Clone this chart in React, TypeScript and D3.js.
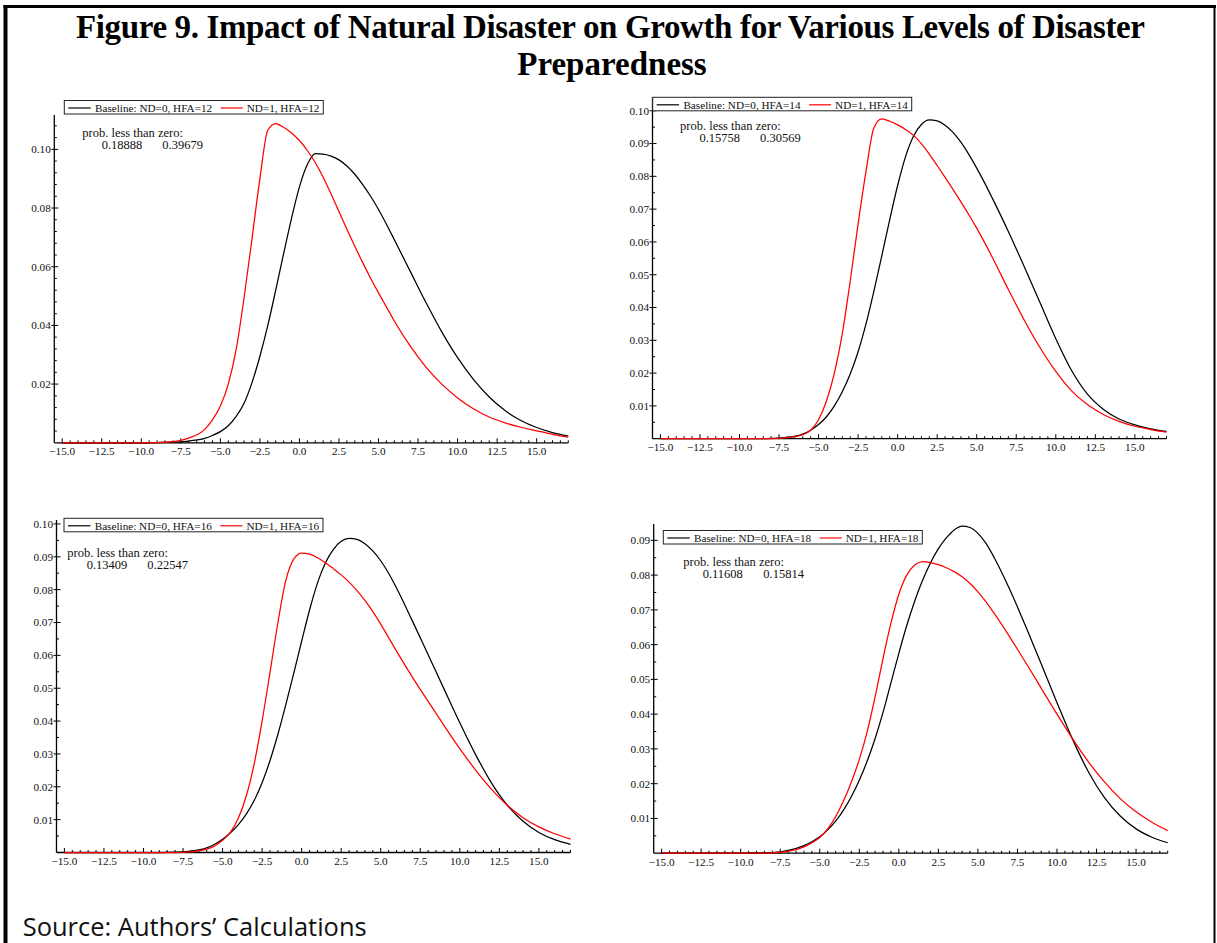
import React from "react";
import * as d3 from "d3";

// ---------- data ----------
const X_GRID = [-15, -12, -10, -9, -8, -7, -6, -5.5, -5, -4.5, -4, -3.5, -3, -2.5, -2, -1.5, -1, -0.5, 0, 0.5, 1, 1.5, 2, 2.5, 3, 3.5, 4, 4.5, 5, 5.5, 6, 7, 8, 9, 10, 11, 12, 13, 14, 15, 16, 17];

const BASE_HFA12 = [0, 0, 0, 0.0001, 0.0002, 0.0006, 0.0015, 0.0025, 0.0038, 0.0058, 0.009, 0.0135, 0.0205, 0.0295, 0.04, 0.052, 0.0645, 0.0765, 0.0872, 0.0948, 0.0985, 0.0984, 0.0977, 0.0964, 0.0943, 0.0915, 0.088, 0.084, 0.0795, 0.0745, 0.0692, 0.0585, 0.0478, 0.0378, 0.029, 0.0216, 0.0156, 0.011, 0.0076, 0.0052, 0.0035, 0.0023];
const ND_HFA12 = [0, 0, 0, 0.0001, 0.0004, 0.0016, 0.0045, 0.0078, 0.0125, 0.02, 0.0318, 0.0495, 0.0695, 0.09, 0.1065, 0.1088, 0.1075, 0.1056, 0.103, 0.0996, 0.0955, 0.0905, 0.0848, 0.0788, 0.0728, 0.067, 0.0614, 0.0561, 0.0511, 0.0463, 0.0415, 0.033, 0.0258, 0.02, 0.0153, 0.0116, 0.0088, 0.0068, 0.0053, 0.0041, 0.0029, 0.0019];

const BASE_HFA14 = [0, 0, 0, 0, 0.0001, 0.0004, 0.0014, 0.0026, 0.0043, 0.0067, 0.01, 0.0143, 0.0197, 0.0265, 0.035, 0.045, 0.0558, 0.0668, 0.0772, 0.086, 0.0922, 0.0958, 0.0972, 0.0969, 0.0956, 0.0934, 0.0904, 0.0867, 0.0825, 0.078, 0.0732, 0.0632, 0.0525, 0.0415, 0.0305, 0.0208, 0.0136, 0.009, 0.006, 0.0042, 0.003, 0.0022];
const ND_HFA14 = [0, 0, 0, 0, 0, 0.0003, 0.0012, 0.0026, 0.0058, 0.0115, 0.02, 0.032, 0.048, 0.0655, 0.0815, 0.0948, 0.0975, 0.0968, 0.0957, 0.0943, 0.0925, 0.09, 0.0868, 0.0833, 0.0797, 0.076, 0.0722, 0.0683, 0.0642, 0.0598, 0.0552, 0.0455, 0.0362, 0.0278, 0.0205, 0.0146, 0.0104, 0.0074, 0.0053, 0.0038, 0.0028, 0.002];

const BASE_HFA16 = [0, 0, 0, 0, 0.0001, 0.0004, 0.0014, 0.0025, 0.004, 0.006, 0.0085, 0.0117, 0.0158, 0.0212, 0.028, 0.036, 0.045, 0.0545, 0.0643, 0.0738, 0.082, 0.0881, 0.0922, 0.0947, 0.0956, 0.0953, 0.094, 0.0918, 0.0888, 0.085, 0.0805, 0.0705, 0.0602, 0.0498, 0.0395, 0.0298, 0.0212, 0.0144, 0.0095, 0.0061, 0.0039, 0.0025];
const ND_HFA16 = [0, 0, 0, 0, 0, 0.0002, 0.001, 0.002, 0.0037, 0.0062, 0.0105, 0.0172, 0.027, 0.04, 0.0548, 0.07, 0.0828, 0.0893, 0.0911, 0.0908, 0.0897, 0.0882, 0.0864, 0.0845, 0.0823, 0.0797, 0.0767, 0.0733, 0.0695, 0.0654, 0.0613, 0.0534, 0.046, 0.0387, 0.0316, 0.0251, 0.0193, 0.0144, 0.0106, 0.0078, 0.0057, 0.0041];

const BASE_HFA18 = [0, 0, 0, 0.0001, 0.0002, 0.0008, 0.0022, 0.0033, 0.0047, 0.0067, 0.0092, 0.0124, 0.0163, 0.021, 0.0265, 0.033, 0.0405, 0.049, 0.0575, 0.0655, 0.0725, 0.0785, 0.0835, 0.0876, 0.0907, 0.093, 0.0941, 0.0937, 0.092, 0.0892, 0.0853, 0.076, 0.0655, 0.0545, 0.0433, 0.0326, 0.0233, 0.016, 0.0107, 0.007, 0.0046, 0.003];
const ND_HFA18 = [0, 0, 0, 0, 0.0001, 0.0005, 0.0018, 0.003, 0.0045, 0.007, 0.0105, 0.015, 0.0205, 0.027, 0.035, 0.045, 0.056, 0.0662, 0.0745, 0.08, 0.0829, 0.0839, 0.0836, 0.083, 0.0821, 0.081, 0.0795, 0.0776, 0.0752, 0.0724, 0.0692, 0.0623, 0.055, 0.0475, 0.04, 0.0328, 0.0262, 0.0205, 0.0157, 0.0119, 0.0089, 0.0065];

const HFA_LEVELS = [12, 14, 16, 18];
const BASE_SERIES = [BASE_HFA12, BASE_HFA14, BASE_HFA16, BASE_HFA18];
const ND_SERIES = [ND_HFA12, ND_HFA14, ND_HFA16, ND_HFA18];
const PROB_BASE = ["0.18888", "0.15758", "0.13409", "0.11608"];
const PROB_ND = ["0.39679", "0.30569", "0.22547", "0.15814"];

const X_DOMAIN = [-15.5, 17];
const X_TICKS = [-15, -12.5, -10, -7.5, -5, -2.5, 0, 2.5, 5, 7.5, 10, 12.5, 15];
const X_MINOR_STEP = 0.5;
const Y_MAX = [0.1117, 0.1041, 0.1012, 0.0947];
const Y_MAJOR_STEP = [0.02, 0.01, 0.01, 0.01];
const Y_MINOR_STEP = [0.004, 0.005, 0.005, 0.005];

const TITLE_LINE1 = "Figure 9. Impact of Natural Disaster on Growth for Various Levels of Disaster";
const TITLE_LINE2 = "Preparedness";
const SOURCE = "Source: Authors\u2019 Calculations";

// ---------- layout ----------
const W = 1217;
const H = 943;
const PLOT_W = 514;
const LAYOUT = [
  { left: 54.3, top: 115, bottom: 442.8, legX: 64.3, legY: 100.5, noteX: 82.3, noteY: 136.7 },
  { left: 652.5, top: 97.3, bottom: 438.7, legX: 652.7, legY: 97.3, noteX: 680, noteY: 130.3 },
  { left: 56.5, top: 520, bottom: 852.5, legX: 64, legY: 518.3, noteX: 67.3, noteY: 556.7 },
  { left: 653.7, top: 524, bottom: 853.2, legX: 663.3, legY: 530.5, noteX: 683.3, noteY: 565.7 },
];

const SERIF = "'Liberation Serif', 'Times New Roman', serif";
const RED = "#ff0000";

function Panel({ idx }: { idx: number }) {
  const L = LAYOUT[idx];
  const x = d3.scaleLinear().domain(X_DOMAIN).range([L.left, L.left + PLOT_W]);
  const y = d3.scaleLinear().domain([0, Y_MAX[idx]]).range([L.bottom, L.top]);
  const line = d3
    .line<number>()
    .x((_, i) => x(X_GRID[i]))
    .y((d) => y(d))
    .curve(d3.curveMonotoneX);

  const xMinor = d3.range(-15, 17.001, X_MINOR_STEP).filter((v) => !X_TICKS.some((t) => Math.abs(t - v) < 1e-6));
  const yMajor = d3.range(Y_MAJOR_STEP[idx], Y_MAX[idx] + 1e-9, Y_MAJOR_STEP[idx]).map((v) => +v.toFixed(4));
  const yMinor = d3
    .range(Y_MINOR_STEP[idx], Y_MAX[idx] + 1e-9, Y_MINOR_STEP[idx])
    .map((v) => +v.toFixed(4))
    .filter((v) => !yMajor.some((t) => Math.abs(t - v) < 1e-6));
  const fmt = d3.format(".2f");
  const xfmt = d3.format(".1f");

  const lx = L.legX;
  const ly = L.legY;
  const hfa = HFA_LEVELS[idx];

  return (
    <g>
      {/* axes */}
      <line x1={L.left} x2={L.left} y1={L.top} y2={L.bottom} stroke="#000" strokeWidth={1.3} />
      <line x1={L.left} x2={L.left + PLOT_W} y1={L.bottom} y2={L.bottom} stroke="#000" strokeWidth={1.3} />
      {X_TICKS.map((t) => (
        <g key={"xt" + t}>
          <line x1={x(t)} x2={x(t)} y1={L.bottom + 0.5} y2={L.bottom - 4.5} stroke="#000" strokeWidth={1} />
          <text x={x(t)} y={L.bottom + 12.5} textAnchor="middle" fontFamily={SERIF} fontSize={11.2} fill="#111">
            {xfmt(t)}
          </text>
        </g>
      ))}
      {xMinor.map((t) => (
        <line key={"xm" + t} x1={x(t)} x2={x(t)} y1={L.bottom} y2={L.bottom - 2.5} stroke="#000" strokeWidth={1} />
      ))}
      {yMajor.map((t) => (
        <g key={"yt" + t}>
          <line x1={L.left - 3} x2={L.left + 4} y1={y(t)} y2={y(t)} stroke="#000" strokeWidth={1} />
          <text x={L.left - 3.5} y={y(t)} dy="0.35em" textAnchor="end" fontFamily={SERIF} fontSize={11.2} fill="#111">
            {fmt(t)}
          </text>
        </g>
      ))}
      {yMinor.map((t) => (
        <line key={"ym" + t} x1={L.left} x2={L.left + 2.5} y1={y(t)} y2={y(t)} stroke="#000" strokeWidth={1} />
      ))}

      {/* curves */}
      <path d={line(BASE_SERIES[idx]) || ""} fill="none" stroke="#000" strokeWidth={1.25} />
      <path d={line(ND_SERIES[idx]) || ""} fill="none" stroke={RED} strokeWidth={1.25} />

      {/* legend */}
      <rect x={lx} y={ly} width={259} height={13.5} fill="#fff" stroke="#222" strokeWidth={1} />
      <line x1={lx + 4} x2={lx + 26.4} y1={ly + 7.5} y2={ly + 7.5} stroke="#000" strokeWidth={1.2} />
      <text x={lx + 30.7} y={ly + 11.3} fontFamily={SERIF} fontSize={11.2} fill="#111">
        {`Baseline: ND=0, HFA=${hfa}`}
      </text>
      <line x1={lx + 156.4} x2={lx + 178.4} y1={ly + 7.5} y2={ly + 7.5} stroke={RED} strokeWidth={1.2} />
      <text x={lx + 182.4} y={ly + 11.3} fontFamily={SERIF} fontSize={11.2} fill="#111">
        {`ND=1, HFA=${hfa}`}
      </text>

      {/* annotation */}
      <text x={L.noteX} y={L.noteY} fontFamily={SERIF} fontSize={12.5} fill="#111">
        prob. less than zero:
      </text>
      <text x={L.noteX + 19.4} y={L.noteY + 11.8} fontFamily={SERIF} fontSize={12.5} fill="#111">
        {PROB_BASE[idx]}
      </text>
      <text x={L.noteX + 80} y={L.noteY + 11.8} fontFamily={SERIF} fontSize={12.5} fill="#111">
        {PROB_ND[idx]}
      </text>
    </g>
  );
}

export default function App() {
  return (
    <svg
      width={W}
      height={H}
      viewBox={`0 0 ${W} ${H}`}
      style={{ position: "absolute", left: 0, top: 0, background: "#fff" }}
    >
      <rect x={0} y={0} width={W} height={H} fill="#fff" />
      {/* frame */}
      <line x1={3.5} x2={1216} y1={6.5} y2={6.5} stroke="#000" strokeWidth={3} />
      <line x1={5.5} x2={5.5} y1={5} y2={H} stroke="#000" strokeWidth={4} />
      <line x1={1214.5} x2={1214.5} y1={5} y2={H} stroke="#000" strokeWidth={2} />

      {/* title */}
      <text
        x={610.5}
        y={37.7}
        textAnchor="middle"
        fontFamily={SERIF}
        fontWeight="bold"
        fontSize={33}
        textLength={1069}
        lengthAdjust="spacing"
        fill="#000"
      >
        {TITLE_LINE1}
      </text>
      <text x={612} y={75} textAnchor="middle" fontFamily={SERIF} fontWeight="bold" fontSize={33} fill="#000">
        {TITLE_LINE2}
      </text>

      {[0, 1, 2, 3].map((i) => (
        <Panel key={i} idx={i} />
      ))}

      <text
        x={22.7}
        y={935.5}
        fontFamily="'Open Sans', 'Noto Sans', sans-serif"
        fontSize={26}
        textLength={344}
        lengthAdjust="spacingAndGlyphs"
        fill="#111"
      >
        {SOURCE}
      </text>
    </svg>
  );
}
